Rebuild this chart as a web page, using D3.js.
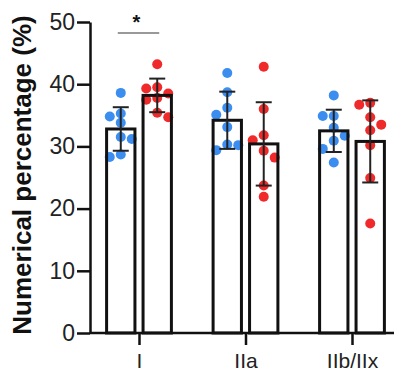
<!DOCTYPE html>
<html lang="en">

<head>
    <meta charset="UTF-8">
    <title>Numerical percentage</title>
    <script src="https://d3js.org/d3.v7.min.js"></script>
    <style>
        body {
            margin: 0;
            background: #fff;
        }

        svg {
            display: block;
            font-family: "Liberation Sans", Arial, sans-serif;
        }
    </style>
</head>

<body>
    <svg width="394" height="380"></svg>
    <script>
        var categories = ['I', 'IIa', 'IIb/IIx'];
        var yTicks = [0, 10, 20, 30, 40, 50];

        // bar heights (mean) and error bars (SD)
        var blueMeans = [32.8, 34.2, 32.5];
        var blueSD = [3.5, 4.6, 3.4];
        var redMeans = [38.2, 30.4, 30.8];
        var redSD = [2.7, 6.7, 6.6];

        // individual points per category
        var bluePoints = [
            [38.6, 35.3, 34.8, 33.8, 31.5, 31.2, 28.7, 28.3],
            [41.8, 38.7, 36.2, 35.1, 33.1, 30.3, 30.2, 29.4],
            [38.2, 34.9, 34.9, 33.0, 31.7, 30.9, 29.6, 27.4]
        ];
        var redPoints = [
            [43.2, 39.5, 39.3, 38.5, 37.8, 37.5, 35.4, 34.7],
            [42.8, 36.0, 31.8, 31.0, 29.3, 28.2, 23.7, 21.9],
            [37.0, 36.7, 34.7, 33.5, 32.6, 30.2, 24.9, 17.6]
        ];

        // significance bracket over the first group
        var sigLabel = '*';
        var sigCategory = 'I';

        var width = 394, height = 380;
        var margin = { top: 22, right: 2, bottom: 47, left: 90 };
        var blue = '#3b8df0', red = '#f02a2a';

        var svg = d3.select('svg');

        var x = d3.scalePoint().domain(categories)
            .range([margin.left + 49, width - 42]);
        var sub = d3.scaleBand().domain(['blue', 'red'])
            .range([-32.4, 32.4]).paddingInner(0.2225);
        var y = d3.scaleLinear().domain([0, 50])
            .range([height - margin.bottom, margin.top]);

        var series = [
            { key: 'blue', color: blue, means: blueMeans, sd: blueSD, points: bluePoints },
            { key: 'red', color: red, means: redMeans, sd: redSD, points: redPoints }
        ];

        var bars = [];
        series.forEach(s => {
            categories.forEach((c, i) => {
                bars.push({
                    key: s.key, color: s.color, cat: c,
                    mean: s.means[i], sd: s.sd[i], points: s.points[i],
                    cx: x(c) + sub(s.key) + sub.bandwidth() / 2
                });
            });
        });

        // simple swarm: center first, then alternate sides when dots overlap
        var r = 5, step = 11, minGap = 8.5;
        function swarm(bar) {
            var placed = [];
            var toggle = -1;
            bar.points.slice().sort((a, b) => b - a).forEach(v => {
                var py = y(v);
                var free = off => placed.every(p => Math.hypot(p.dx - off, p.py - py) >= minGap);
                var dx = 0;
                if (!free(0)) {
                    var order = [toggle * step, -toggle * step, toggle * 2 * step, -toggle * 2 * step];
                    dx = order.find(free);
                    if (dx === undefined) dx = order[0];
                    toggle = -toggle;
                }
                placed.push({ dx: dx, py: py, v: v });
            });
            return placed.map(p => ({ x: bar.cx + p.dx, y: p.py, color: bar.color }));
        }

        // bar fills
        svg.append('g')
            .selectAll('rect')
            .data(bars)
            .enter()
            .append('rect')
            .attr('x', d => d.cx - sub.bandwidth() / 2)
            .attr('width', sub.bandwidth())
            .attr('y', d => y(d.mean))
            .attr('height', d => y(0) - y(d.mean))
            .style('fill', 'white');

        // dots
        svg.append('g')
            .selectAll('circle')
            .data(bars.flatMap(swarm))
            .enter()
            .append('circle')
            .attr('cx', d => d.x)
            .attr('cy', d => d.y)
            .attr('r', r)
            .style('fill', d => d.color);

        // bar outlines on top of dots
        svg.append('g')
            .selectAll('rect')
            .data(bars)
            .enter()
            .append('rect')
            .attr('x', d => d.cx - sub.bandwidth() / 2)
            .attr('width', sub.bandwidth())
            .attr('y', d => y(d.mean))
            .attr('height', d => y(0) - y(d.mean))
            .style('fill', 'none')
            .style('stroke', '#111')
            .style('stroke-width', '3px');

        // error bars
        var err = svg.append('g')
            .selectAll('g')
            .data(bars)
            .enter()
            .append('g')
            .style('stroke', '#222')
            .style('stroke-width', '2px');
        err.append('line')
            .attr('x1', d => d.cx).attr('x2', d => d.cx)
            .attr('y1', d => y(d.mean + d.sd)).attr('y2', d => y(d.mean - d.sd));
        err.append('line')
            .attr('x1', d => d.cx - 8).attr('x2', d => d.cx + 8)
            .attr('y1', d => y(d.mean + d.sd)).attr('y2', d => y(d.mean + d.sd));
        err.append('line')
            .attr('x1', d => d.cx - 8).attr('x2', d => d.cx + 8)
            .attr('y1', d => y(d.mean - d.sd)).attr('y2', d => y(d.mean - d.sd));

        // axes
        var yAxis = svg.append('g')
            .attr('transform', 'translate(' + margin.left + ',0)')
            .call(d3.axisLeft(y).tickValues(yTicks).tickSize(13).tickSizeOuter(0).tickPadding(2));
        yAxis.selectAll('text').style('font-size', '23px').style('fill', '#222');

        var xAxis = svg.append('g')
            .attr('transform', 'translate(0,' + y(0) + ')')
            .call(d3.axisBottom(x).tickSize(12).tickSizeOuter(0).tickPadding(8));
        xAxis.select('.domain').remove();
        xAxis.append('line')
            .attr('x1', margin.left).attr('x2', width)
            .style('stroke', '#111');
        xAxis.selectAll('text').style('font-size', '21px').style('fill', '#222');

        svg.selectAll('.domain, .tick line, g > line')
            .filter(function () { return this.parentNode.parentNode === svg.node() || this.classList.contains('domain') || this.parentNode.classList.contains('tick'); })
            .style('stroke-width', '2.5px').style('stroke', '#111');

        // y title
        svg.append('text')
            .attr('transform', 'translate(31,' + 175 + ') rotate(-90)')
            .attr('text-anchor', 'middle')
            .style('font-size', '26px')
            .style('font-weight', 'bold')
            .style('fill', '#111')
            .text('Numerical percentage (%)');

        // significance bracket
        var c0 = x(sigCategory);
        var bx1 = c0 + sub('blue') + sub.bandwidth() / 2 - 3;
        var bx2 = c0 + sub('red') + sub.bandwidth() / 2 + 2;
        svg.append('line')
            .attr('x1', bx1).attr('x2', bx2)
            .attr('y1', 33).attr('y2', 33)
            .style('stroke', '#777').style('stroke-width', '1.5px');
        svg.append('text')
            .attr('x', (bx1 + bx2) / 2 - 2)
            .attr('y', 29)
            .attr('text-anchor', 'middle')
            .style('font-size', '20px')
            .style('font-weight', 'bold')
            .style('fill', '#111')
            .text(sigLabel);
    </script>
</body>

</html>
